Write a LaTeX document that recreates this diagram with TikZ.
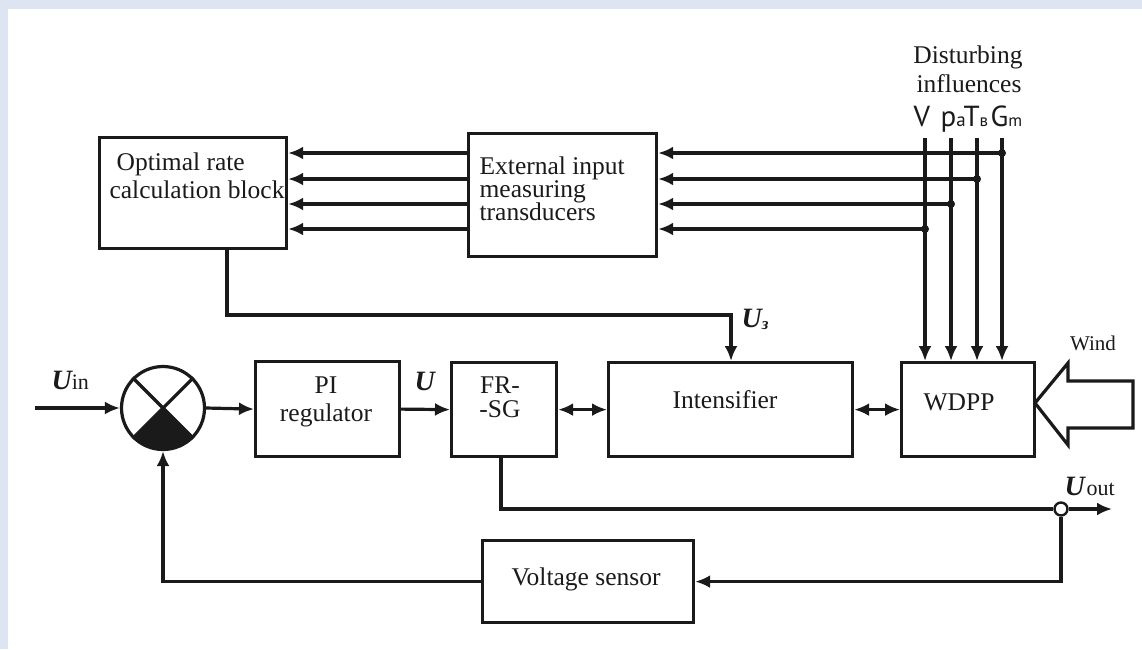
\documentclass[tikz,border=0pt]{standalone}
\usepackage{fontspec}
\setmainfont{Liberation Serif}
\newfontfamily\dsans{PT Sans}
\usetikzlibrary{arrows.meta,calc}
\definecolor{bgblue}{HTML}{DCE5F1}
\definecolor{ink}{HTML}{1A1A1A}
\newcommand\myU{{\fontsize{28}{28}\selectfont\bfseries\itshape U}}
\begin{document}
\begin{tikzpicture}[x=1pt,y=-1pt,
  line width=3.2pt, draw=ink,
  box/.style={draw=ink, line width=3.2pt, rectangle, inner sep=0pt, anchor=north west},
  arr/.style={draw=ink, -{Latex[length=15pt,width=13pt]}},
  darr/.style={draw=ink, {Latex[length=15pt,width=13pt]}-{Latex[length=15pt,width=13pt]}},
  txt/.style={font=\fontsize{25.5}{28}\selectfont, text=ink, inner sep=0pt, anchor=base},
  dl/.style={font=\dsans\fontsize{29}{29}\selectfont, text=ink, inner sep=0pt, anchor=base west},
  ul/.style={text=ink, inner sep=0pt, anchor=base west},
  dot/.style={circle, fill=ink, inner sep=0pt, minimum size=8pt}
]
\useasboundingbox (0,0) rectangle (1142,649);
\fill[bgblue] (0,0) rectangle (1142,649);
\fill[white] (8,9) rectangle (1142,649);

% boxes
\node[box, minimum width=187pt, minimum height=111pt] (opt) at (98,136) {};
\node[box, minimum width=188pt, minimum height=123pt] (ext) at (467,132) {};
\node[box, minimum width=144pt, minimum height=95pt] (pi) at (254,360) {};
\node[box, minimum width=105pt, minimum height=94pt] (frsg) at (450,361) {};
\node[box, minimum width=244pt, minimum height=94pt] (intens) at (607,361) {};
\node[box, minimum width=133pt, minimum height=94pt] (wdpp) at (900,361) {};
\node[box, minimum width=211pt, minimum height=82pt] (vs) at (481,539) {};
\node[circle, inner sep=0pt, minimum size=83pt] (sum) at (163,408) {};

% summing junction
\begin{scope}
\clip (sum.center) circle[radius=41.5];
\fill[ink] (sum.center) -- ++(-60,60) -- ++(120,0) -- cycle;
\end{scope}
\draw (sum.north west) -- (sum.south east);
\draw (sum.north east) -- (sum.south west);
\draw (sum.center) circle[radius=41.5];

% texts
\node[txt, anchor=base west] (t1) at (115,170) {Optimal rate};
\node[txt, anchor=base west] (t2) at (108,198) {calculation block};
\node[txt, anchor=base west] (t3) at (478,174) {External input};
\node[txt, anchor=base west] (t4) at (478,197) {measuring};
\node[txt, anchor=base west] (t5) at (478,220) {transducers};
\node[txt] (t6) at (326,393) {PI};
\node[txt] (t7) at (326,421) {regulator};
\node[txt] (t8) at (500,393) {FR-};
\node[txt] (t9) at (500,417) {-SG};
\node[txt] (t10) at (725,408) {Intensifier};
\node[txt] (t11) at (959,410) {WDPP};
\node[txt] (t12) at (586,585) {Voltage sensor};
\node[txt, font=\fontsize{21}{21}\selectfont] (t13) at (1093,350) {Wind};
\node[txt] (t14) at (968,63) {Disturbing};
\node[txt] (t15) at (969,92) {influences};

\node[dl] (dV) at (912,126) {V};
\node[dl] (dp) at (939,126) {p{\fontsize{19}{19}\selectfont a}};
\node[dl] (dT) at (962,126) {T{\fontsize{17}{17}\selectfont в}};
\node[dl] (dG) at (989,126) {G{\fontsize{17}{17}\selectfont m}};

\node[ul] (uin) at (50,389) {\myU{\fontsize{22}{22}\selectfont in}};
\node[ul] (uu) at (413,390) {\myU};
\node[ul] (uout) at (1063,495) {\myU\,{\fontsize{22}{22}\selectfont out}};
\node[ul] (u3) at (740,327) {\myU\raisebox{-2pt}{\fontsize{17}{17}\selectfont\bfseries\itshape з}};

% disturbance lines
\coordinate (dt1) at (925,138);
\coordinate (dt2) at (951,138);
\coordinate (dt3) at (977,138);
\coordinate (dt4) at (1002,138);
\coordinate (j1) at (925,229);
\coordinate (j2) at (951,204);
\coordinate (j3) at (977,179);
\coordinate (j4) at (1002,153);
\foreach \i in {1,2,3,4} {
  \draw[arr] (dt\i) -- (dt\i |- wdpp.north);
  \draw[arr] (j\i) -- (j\i -| ext.east);
  \draw[arr] (ext.west |- j\i) -- (opt.east |- j\i);
  \node[dot] at (j\i) {};
}

% main chain
\coordinate (uinstart) at (35,408);
\draw[arr] (uinstart) -- (sum.west);
\draw[arr] (sum.east) -- (pi.west);
\draw[arr] (pi.east) -- (frsg.west);
\draw[darr] (frsg.east) -- (intens.west);
\draw[darr] (intens.east) -- (wdpp.west);

% U3
\coordinate (u3s) at ($(opt.south west)+(129,0)$);
\coordinate (u3k) at (731,315);
\draw[arr] (u3s) |- (u3k) -- (u3k |- intens.north);

% output
\node[circle, draw=ink, fill=white, line width=2.4pt, minimum size=13pt, inner sep=0pt] (oc) at (1061,509) {};
\coordinate (o1) at (501,0);
\coordinate (uend) at (1112,509);
\draw (frsg.south -| o1) |- (oc.west);
\draw[arr] (oc.east) -- (uend);
\draw[arr] (oc.south) |- (vs.east);
\draw[arr] (vs.west) -| (sum.south);

% wind arrow
\draw[line join=miter] (1035,403) -- (1068,363) -- (1068,381) -- (1133,381) -- (1133,428) -- (1068,428) -- (1068,445) -- cycle;
\end{tikzpicture}
\end{document}
